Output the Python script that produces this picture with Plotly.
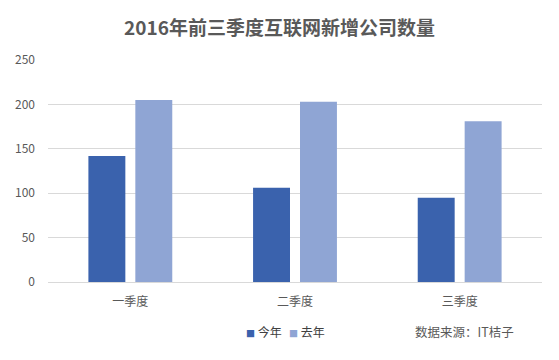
import plotly.graph_objects as go

categories = ["一季度", "二季度", "三季度"]
this_year = [142, 106, 95]
last_year = [205, 203, 181]
series_names = ["今年", "去年"]
colors = ["#3A62AD", "#8FA5D4"]
title = "2016年前三季度互联网新增公司数量"
source = "数据来源：IT桔子"

FONT = "Noto Sans CJK SC, Microsoft YaHei, sans-serif"

fig = go.Figure()
fig.add_trace(go.Bar(x=categories, y=this_year, name=series_names[0],
                     marker=dict(color=colors[0], line=dict(width=0)), showlegend=False))
fig.add_trace(go.Bar(x=categories, y=last_year, name=series_names[1],
                     marker=dict(color=colors[1], line=dict(width=0)), showlegend=False))

fig.update_layout(
    width=559, height=360,
    margin=dict(l=48, r=17, t=60, b=78),
    paper_bgcolor="white", plot_bgcolor="white",
    barmode="group", bargap=0.43, bargroupgap=0.213,
    font=dict(family=FONT, size=12, color="#595959"),
    title=dict(text="<b>" + title + "</b>", x=0.5, xanchor="center", y=0.922, yanchor="middle",
               font=dict(family=FONT, size=19, color="#595959")),
    showlegend=False,
)
fig.update_yaxes(range=[0, 250], dtick=50, showgrid=True, gridcolor="#D9D9D9", gridwidth=1,
                 zeroline=False, showline=False, ticks="", ticklabelstandoff=12,
                 tickfont=dict(size=12, color="#595959"), fixedrange=True)
fig.update_xaxes(showline=True, linecolor="#D9D9D9", linewidth=1, ticks="",
                 ticklabelstandoff=9, tickfont=dict(size=12, color="#595959"), fixedrange=True)

# legend drawn as text annotations
legend_x = [244, 287]
for name, col, px in zip(series_names, colors, legend_x):
    fig.add_annotation(xref="paper", yref="paper",
                       x=(px - 48) / 494, y=-(331 - 282) / 222,
                       xanchor="left", yanchor="middle", showarrow=False,
                       text=f"<span style='color:{col};font-size:9px'>■</span> {name}",
                       font=dict(family=FONT, size=12, color="#404040"))

fig.add_annotation(xref="paper", yref="paper", x=(413 - 48) / 494, y=-(331 - 282) / 222,
                   xanchor="left", yanchor="middle", showarrow=False,
                   text=source, font=dict(family=FONT, size=12.5, color="#595959"))

fig.write_html("out.html", config={"displayModeBar": False},
               post_script="document.body.style.margin='0';")
